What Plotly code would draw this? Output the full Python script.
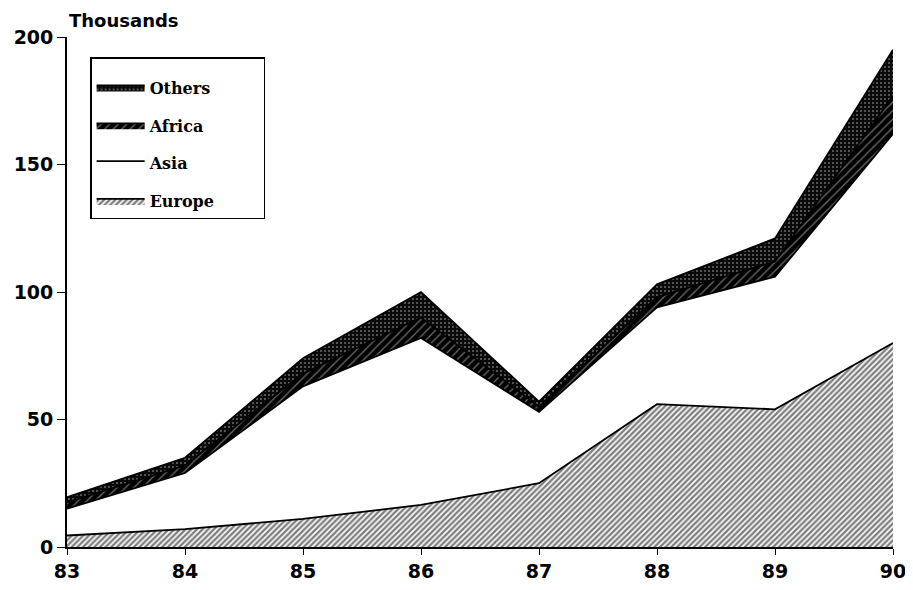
import plotly.graph_objects as go

years = [83, 84, 85, 86, 87, 88, 89, 90]
europe = [4.5, 7, 11, 16.5, 25, 56, 54, 80]
asia = [10.5, 22, 52, 65.5, 28, 38, 52, 82]
africa = [2.5, 3, 5, 8, 2, 4, 6, 15]
others = [2, 3, 6, 10, 2, 5, 9, 18]
y_ticks = [0, 50, 100, 150, 200]

series = [
    ("Europe", europe, dict(shape="/", fgcolor="black", bgcolor="white", size=4, solidity=0.6), "white", 4),
    ("Asia", asia, None, "white", 3),
    ("Africa", africa, dict(shape="/", fgcolor="#dddddd", bgcolor="black", size=6, solidity=0.2), "black", 2),
    ("Others", others, dict(shape=".", fgcolor="#cccccc", bgcolor="#0a0a0a", size=4, solidity=0.2), "#222222", 1),
]

pad = "\u00a0" * 8
fig = go.Figure()
for name, vals, pat, fc, rank in series:
    kw = dict(fillpattern=pat) if pat else {}
    fig.add_trace(go.Scatter(
        x=years, y=vals, name=name + pad, mode="lines", stackgroup="one",
        line=dict(color="black", width=1.8), fillcolor=fc, legendgroup=name,
        legendrank=rank, **kw))

fig.update_layout(
    width=905, height=582,
    margin=dict(l=59, r=20, t=29, b=43, autoexpand=False),
    paper_bgcolor="white", plot_bgcolor="white",
    font=dict(family="DejaVu Sans", color="black", size=19, weight="bold"),
    showlegend=True,
    legend=dict(
        x=0.028, y=0.96, xanchor="left", yanchor="top",
        bordercolor="black", borderwidth=1.5, bgcolor="white",
        traceorder="grouped", tracegroupgap=14,
        font=dict(family="DejaVu Serif", size=16, weight="bold"),
        itemwidth=48,
        title=dict(text="\u00a0", font=dict(size=9)),
    ),
    xaxis=dict(
        range=[83, 90], tickvals=years, ticktext=[str(y) for y in years],
        showgrid=False, zeroline=False, showline=True, linecolor="black", linewidth=1.8,
        ticks="outside", ticklen=6, tickcolor="black", automargin=False,
    ),
    yaxis=dict(
        range=[0, 200], tickvals=y_ticks,
        showgrid=False, zeroline=False, showline=True, linecolor="black", linewidth=1.8,
        ticks="outside", ticklen=8, tickcolor="black", automargin=False,
    ),
    annotations=[dict(
        text="Thousands", xref="paper", yref="paper", x=0.0, y=1.0,
        xanchor="left", yanchor="bottom", yshift=4, showarrow=False,
        font=dict(family="DejaVu Sans", size=18, weight="bold"),
    )],
)

fig.write_html("out.html")
